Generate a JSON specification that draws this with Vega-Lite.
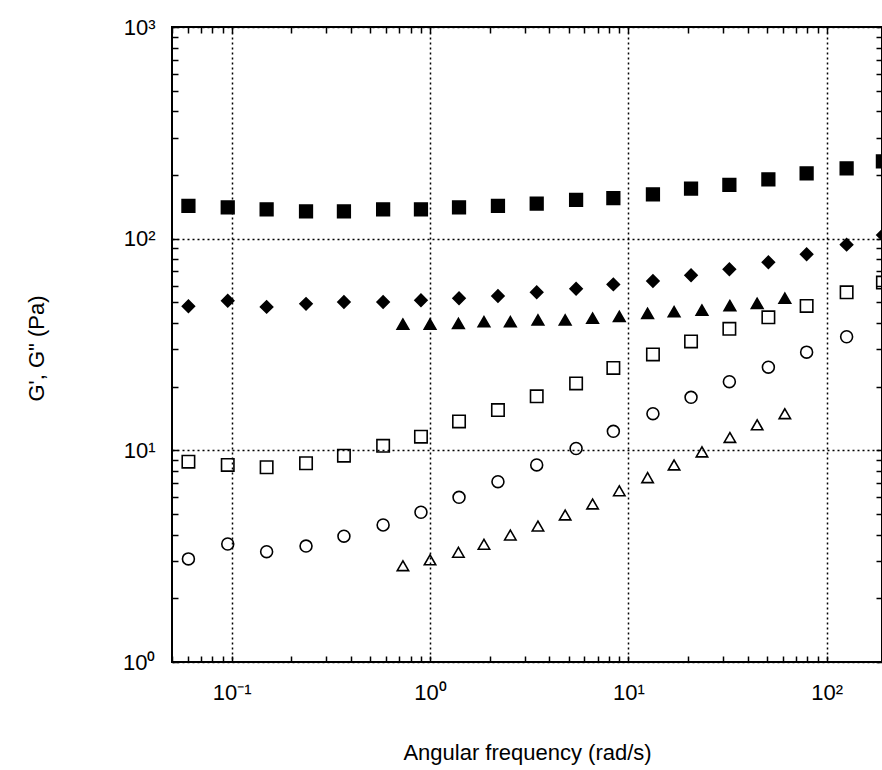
{
  "$schema": "https://vega.github.io/schema/vega-lite/v6.json",
  "width": 710,
  "height": 635,
  "autosize": "none",
  "padding": {"left": 172, "top": 27, "right": 0, "bottom": 108},
  "background": "white",
  "config": {
    "view": {"stroke": "black", "strokeWidth": 2},
    "axis": {
      "domain": false,
      "tickColor": "black",
      "tickWidth": 1.5,
      "tickSize": -6,
      "labelColor": "black",
      "labelFont": "Liberation Sans",
      "labelFontSize": 22,
      "labelFontWeight": "normal",
      "labelOverlap": false,
      "labelFlush": false,
      "titleFont": "Liberation Sans",
      "titleFontWeight": "normal",
      "titleColor": "black",
      "titleFontSize": 22
    }
  },
  "datasets": {
    "pts": [
      {"series": "S1 G'", "w": 0.0605, "g": 142.7},
      {"series": "S1 G'", "w": 0.0955, "g": 140.7},
      {"series": "S1 G'", "w": 0.150, "g": 137.7},
      {"series": "S1 G'", "w": 0.237, "g": 134.7},
      {"series": "S1 G'", "w": 0.368, "g": 134.7},
      {"series": "S1 G'", "w": 0.580, "g": 137.7},
      {"series": "S1 G'", "w": 0.90, "g": 137.7},
      {"series": "S1 G'", "w": 1.40, "g": 140.7},
      {"series": "S1 G'", "w": 2.20, "g": 142.7},
      {"series": "S1 G'", "w": 3.45, "g": 146.3},
      {"series": "S1 G'", "w": 5.45, "g": 152.3},
      {"series": "S1 G'", "w": 8.4, "g": 155.3},
      {"series": "S1 G'", "w": 13.3, "g": 162.1},
      {"series": "S1 G'", "w": 20.7, "g": 172.3},
      {"series": "S1 G'", "w": 32.3, "g": 179.3},
      {"series": "S1 G'", "w": 50.8, "g": 190.8},
      {"series": "S1 G'", "w": 79.2, "g": 203.7},
      {"series": "S1 G'", "w": 126, "g": 215.1},
      {"series": "S1 G'", "w": 192, "g": 232},
      {"series": "S1 G''", "w": 0.0605, "g": 8.84},
      {"series": "S1 G''", "w": 0.0955, "g": 8.53},
      {"series": "S1 G''", "w": 0.150, "g": 8.32},
      {"series": "S1 G''", "w": 0.237, "g": 8.69},
      {"series": "S1 G''", "w": 0.368, "g": 9.44},
      {"series": "S1 G''", "w": 0.580, "g": 10.5},
      {"series": "S1 G''", "w": 0.90, "g": 11.6},
      {"series": "S1 G''", "w": 1.40, "g": 13.7},
      {"series": "S1 G''", "w": 2.20, "g": 15.5},
      {"series": "S1 G''", "w": 3.45, "g": 18.0},
      {"series": "S1 G''", "w": 5.45, "g": 20.7},
      {"series": "S1 G''", "w": 8.4, "g": 24.5},
      {"series": "S1 G''", "w": 13.3, "g": 28.4},
      {"series": "S1 G''", "w": 20.7, "g": 32.7},
      {"series": "S1 G''", "w": 32.3, "g": 37.5},
      {"series": "S1 G''", "w": 50.8, "g": 42.5},
      {"series": "S1 G''", "w": 79.2, "g": 48.1},
      {"series": "S1 G''", "w": 126, "g": 55.8},
      {"series": "S1 G''", "w": 192, "g": 62},
      {"series": "S2 G'", "w": 0.0605, "g": 47.9},
      {"series": "S2 G'", "w": 0.0955, "g": 50.9},
      {"series": "S2 G'", "w": 0.150, "g": 47.6},
      {"series": "S2 G'", "w": 0.237, "g": 49.2},
      {"series": "S2 G'", "w": 0.368, "g": 50.2},
      {"series": "S2 G'", "w": 0.580, "g": 50.2},
      {"series": "S2 G'", "w": 0.90, "g": 51.2},
      {"series": "S2 G'", "w": 1.40, "g": 52.3},
      {"series": "S2 G'", "w": 2.20, "g": 53.6},
      {"series": "S2 G'", "w": 3.45, "g": 55.8},
      {"series": "S2 G'", "w": 5.45, "g": 58.0},
      {"series": "S2 G'", "w": 8.4, "g": 60.8},
      {"series": "S2 G'", "w": 13.3, "g": 63.1},
      {"series": "S2 G'", "w": 20.7, "g": 67.2},
      {"series": "S2 G'", "w": 32.3, "g": 71.7},
      {"series": "S2 G'", "w": 50.8, "g": 77.4},
      {"series": "S2 G'", "w": 79.2, "g": 84.4},
      {"series": "S2 G'", "w": 126, "g": 93.7},
      {"series": "S2 G'", "w": 192, "g": 104},
      {"series": "S2 G''", "w": 0.0605, "g": 3.07},
      {"series": "S2 G''", "w": 0.0955, "g": 3.61},
      {"series": "S2 G''", "w": 0.150, "g": 3.32},
      {"series": "S2 G''", "w": 0.237, "g": 3.53},
      {"series": "S2 G''", "w": 0.368, "g": 3.93},
      {"series": "S2 G''", "w": 0.580, "g": 4.44},
      {"series": "S2 G''", "w": 0.90, "g": 5.10},
      {"series": "S2 G''", "w": 1.40, "g": 6.00},
      {"series": "S2 G''", "w": 2.20, "g": 7.11},
      {"series": "S2 G''", "w": 3.45, "g": 8.53},
      {"series": "S2 G''", "w": 5.45, "g": 10.2},
      {"series": "S2 G''", "w": 8.4, "g": 12.3},
      {"series": "S2 G''", "w": 13.3, "g": 14.9},
      {"series": "S2 G''", "w": 20.7, "g": 17.8},
      {"series": "S2 G''", "w": 32.3, "g": 21.1},
      {"series": "S2 G''", "w": 50.8, "g": 24.7},
      {"series": "S2 G''", "w": 79.2, "g": 29.1},
      {"series": "S2 G''", "w": 126, "g": 34.4},
      {"series": "S3 G'", "w": 0.73, "g": 39.5},
      {"series": "S3 G'", "w": 1.0, "g": 39.5},
      {"series": "S3 G'", "w": 1.39, "g": 39.8},
      {"series": "S3 G'", "w": 1.87, "g": 40.5},
      {"series": "S3 G'", "w": 2.54, "g": 40.5},
      {"series": "S3 G'", "w": 3.50, "g": 41.3},
      {"series": "S3 G'", "w": 4.8, "g": 41.3},
      {"series": "S3 G'", "w": 6.6, "g": 42.1},
      {"series": "S3 G'", "w": 9.0, "g": 42.9},
      {"series": "S3 G'", "w": 12.5, "g": 44.4},
      {"series": "S3 G'", "w": 17.0, "g": 45.2},
      {"series": "S3 G'", "w": 23.5, "g": 46.0},
      {"series": "S3 G'", "w": 32.5, "g": 48.3},
      {"series": "S3 G'", "w": 44.6, "g": 49.5},
      {"series": "S3 G'", "w": 61.5, "g": 52.3},
      {"series": "S3 G''", "w": 0.73, "g": 2.85},
      {"series": "S3 G''", "w": 1.0, "g": 3.04},
      {"series": "S3 G''", "w": 1.39, "g": 3.30},
      {"series": "S3 G''", "w": 1.87, "g": 3.60},
      {"series": "S3 G''", "w": 2.54, "g": 3.98},
      {"series": "S3 G''", "w": 3.50, "g": 4.39},
      {"series": "S3 G''", "w": 4.8, "g": 4.95},
      {"series": "S3 G''", "w": 6.6, "g": 5.58},
      {"series": "S3 G''", "w": 9.0, "g": 6.44},
      {"series": "S3 G''", "w": 12.5, "g": 7.43},
      {"series": "S3 G''", "w": 17.0, "g": 8.53},
      {"series": "S3 G''", "w": 23.5, "g": 9.83},
      {"series": "S3 G''", "w": 32.5, "g": 11.5},
      {"series": "S3 G''", "w": 44.6, "g": 13.2},
      {"series": "S3 G''", "w": 61.5, "g": 14.9}
    ]
  },
  "data": {"name": "pts"},
  "layer": [
    {
      "mark": {"type": "point", "stroke": "black", "strokeWidth": 1.6, "opacity": 1, "fillOpacity": 1, "strokeOpacity": 1, "clip": true},
      "encoding": {
        "x": {
          "field": "w", "type": "quantitative",
          "scale": {"type": "log", "domain": [0.05, 190], "nice": false},
          "axis": {
            "orient": "bottom",
            "values": [0.05,0.06,0.07,0.08,0.09,0.1,0.2,0.3,0.4,0.5,0.6,0.7,0.8,0.9,1,2,3,4,5,6,7,8,9,10,20,30,40,50,60,70,80,90,100],
            "labelExpr": "abs(log(datum.value)/LN10 - round(log(datum.value)/LN10)) > 0.001 ? '' : (round(log(datum.value)/LN10) == -1 ? '10⁻¹' : round(log(datum.value)/LN10) == 0 ? '10⁰' : round(log(datum.value)/LN10) == 1 ? '10¹' : '10²')",
            "labelPadding": 26,
            "labelBaseline": "top",
            "grid": true,
            "gridColor": "black",
            "gridWidth": 1.5,
            "gridDash": [2, 3],
            "gridOpacity": {"condition": {"test": "abs(log(datum.value)/LN10 - round(log(datum.value)/LN10)) < 0.001", "value": 1}, "value": 0},
            "title": "Angular frequency (rad/s)",
            "titleX": 355,
            "titleY": 97,
            "titleAlign": "center",
            "titleBaseline": "alphabetic"
          }
        },
        "y": {
          "field": "g", "type": "quantitative",
          "scale": {"type": "log", "domain": [1, 1000], "nice": false},
          "axis": {
            "orient": "left",
            "values": [1,2,3,4,5,6,7,8,9,10,20,30,40,50,60,70,80,90,100,200,300,400,500,600,700,800,900,1000],
            "labelExpr": "abs(log(datum.value)/LN10 - round(log(datum.value)/LN10)) > 0.001 ? '' : (round(log(datum.value)/LN10) == 0 ? '10⁰' : round(log(datum.value)/LN10) == 1 ? '10¹' : round(log(datum.value)/LN10) == 2 ? '10²' : '10³')",
            "labelPadding": 23,
            "labelBaseline": "middle",
            "grid": true,
            "gridColor": "black",
            "gridWidth": 1.5,
            "gridDash": [2, 3],
            "gridOpacity": {"condition": {"test": "abs(log(datum.value)/LN10 - round(log(datum.value)/LN10)) < 0.001", "value": 1}, "value": 0},
            "title": "G', G\" (Pa)",
            "titleX": -136,
            "titleY": 321,
            "titleAngle": -90,
            "titleAlign": "center",
            "titleBaseline": "middle"
          }
        },
        "shape": {
          "field": "series", "type": "nominal",
          "scale": {"domain": ["S1 G'", "S1 G''", "S2 G'", "S2 G''", "S3 G'", "S3 G''"], "range": ["square", "square", "diamond", "circle", "triangle-up", "triangle-up"]},
          "legend": null
        },
        "fill": {
          "field": "series", "type": "nominal",
          "scale": {"domain": ["S1 G'", "S1 G''", "S2 G'", "S2 G''", "S3 G'", "S3 G''"], "range": ["black", "transparent", "black", "transparent", "black", "transparent"]},
          "legend": null
        },
        "size": {
          "field": "series", "type": "ordinal",
          "scale": {"domain": ["S1 G'", "S1 G''", "S2 G'", "S2 G''", "S3 G'", "S3 G''"], "range": [160, 130, 105, 117, 125, 104]},
          "legend": null
        }
      }
    },
    {
      "mark": {"type": "point", "opacity": 0},
      "encoding": {
        "x": {
          "field": "w", "type": "quantitative",
          "scale": {"type": "log", "domain": [0.05, 190], "nice": false},
          "axis": {
            "orient": "top",
            "values": [0.05,0.06,0.07,0.08,0.09,0.1,0.2,0.3,0.4,0.5,0.6,0.7,0.8,0.9,1,2,3,4,5,6,7,8,9,10,20,30,40,50,60,70,80,90,100],
            "labels": false,
            "grid": false,
            "title": null
          }
        },
        "y": {
          "field": "g", "type": "quantitative",
          "scale": {"type": "log", "domain": [1, 1000], "nice": false},
          "axis": {
            "orient": "right",
            "values": [1,2,3,4,5,6,7,8,9,10,20,30,40,50,60,70,80,90,100,200,300,400,500,600,700,800,900,1000],
            "labels": false,
            "grid": false,
            "title": null
          }
        }
      }
    }
  ],
  "resolve": {"axis": {"x": "independent", "y": "independent"}}
}
